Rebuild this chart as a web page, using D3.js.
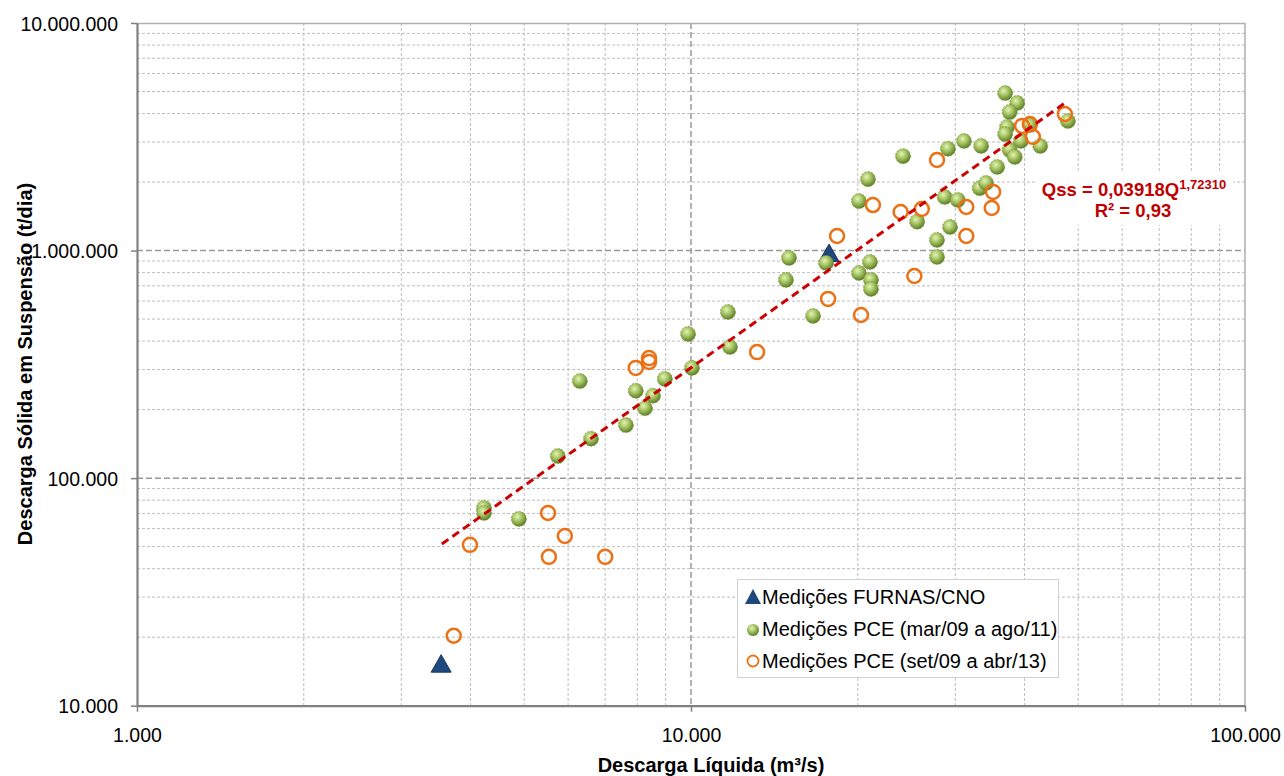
<!DOCTYPE html>
<html>
<head>
<meta charset="utf-8">
<script src="https://cdn.jsdelivr.net/npm/d3@7"></script>
<style>
  body { margin: 0; background: #ffffff; }
  #chart { width: 1284px; height: 776px; }
  text { font-family: Arial, "Liberation Sans", sans-serif; }
</style>
</head>
<body>
<div id="chart"></div>
<script>
// Medições FURNAS/CNO
const furnasQ = [3540, 17750];
const furnasQss = [15300, 975000];

// Medições PCE (mar/09 a ago/11)
const pce1Q = [4230, 4230, 4890, 5750, 6300, 6600, 7630, 7950, 8260, 8540, 8970, 9880, 10040, 11660, 11760,
    15030, 14840, 16610, 17530, 20100, 20870, 21040, 20100, 21130, 21130, 24140, 25600, 27800, 27800, 28700,
    29350, 29100, 30300, 31100, 33400, 33200, 34100, 35700, 36900, 38800, 37600, 37200, 36900, 37600, 38400,
    39400, 42700, 47900, 40900];
const pce1Qss = [74000, 70300, 66200, 125000, 267000, 149000, 171000, 242000, 203000, 230000, 273000, 430000, 305000, 537000, 377000,
    928000, 743000, 516000, 882000, 1650000, 2060000, 891000, 797000, 743000, 678000, 2600000, 1340000, 1113000, 937000, 1720000,
    1270000, 2800000, 1670000, 3030000, 2880000, 1880000, 1980000, 2330000, 4920000, 4450000, 4060000, 3490000, 3250000, 2770000, 2580000,
    3030000, 2880000, 3710000, 3560000];

// Medições PCE (set/09 a abr/13)
const pce2Q = [3730, 3990, 5520, 5540, 5920, 7000, 7950, 8400, 8400, 13160, 17680, 18350, 20270, 21300,
    23900, 25300, 26100, 27800, 31400, 31400, 34900, 35100, 39600, 40900, 41400, 47300];
const pce2Qss = [20300, 50900, 70300, 45100, 55700, 45100, 305000, 337000, 324000, 358000, 613000, 1159000, 521000, 1585000,
    1477000, 773000, 1523000, 2500000, 1554000, 1159000, 1538000, 1810000, 3530000, 3600000, 3160000, 3980000];

// power trend line Qss = a * Q^b
const trendA = 0.03918;
const trendB = 1.7231;
const trendRange = [3550, 47700];

const xTicks = [1000, 10000, 100000];
const yTicks = [10000, 100000, 1000000, 10000000];

const legendLabels = ["Medições FURNAS/CNO", "Medições PCE (mar/09 a ago/11)", "Medições PCE (set/09 a abr/13)"];

const width = 1284;
const height = 776;
const margin = {top: 23, right: 39, bottom: 70.3, left: 137};
const innerW = width - margin.left - margin.right;
const innerH = height - margin.top - margin.bottom;

const ptFormat = d3.formatLocale({decimal: ",", thousands: ".", grouping: [3], currency: ["", ""]}).format(",");

const svg = d3.select("#chart")
    .append("svg")
    .attr("width", width)
    .attr("height", height);

const defs = svg.append("defs");
const grad = defs.append("radialGradient")
    .attr("id", "greenBall")
    .attr("cx", "40%").attr("cy", "35%").attr("r", "65%");
grad.append("stop").attr("offset", "0%").attr("stop-color", "#e4f2b8");
grad.append("stop").attr("offset", "45%").attr("stop-color", "#a9c766");
grad.append("stop").attr("offset", "100%").attr("stop-color", "#5e7e28");

const g = svg.append("g")
    .attr("transform", `translate(${margin.left},${margin.top})`);

const x = d3.scaleLog().domain([1000, 100000]).range([0, innerW]);
const y = d3.scaleLog().domain([10000, 10000000]).range([innerH, 0]);

// minor grid values 2..9 per decade
const minorX = [];
[1000, 10000].forEach(d => { for (let k = 2; k <= 9; k++) minorX.push(d * k); });
const minorY = [];
[10000, 100000, 1000000].forEach(d => { for (let k = 2; k <= 9; k++) minorY.push(d * k); });

g.selectAll(".minor-h")
    .data(minorY)
    .enter().append("line")
    .attr("x1", 0).attr("x2", innerW)
    .attr("y1", d => y(d)).attr("y2", d => y(d))
    .attr("stroke", "#bdbdbd")
    .attr("stroke-width", 1)
    .attr("stroke-dasharray", "3,2");

g.selectAll(".minor-v")
    .data(minorX)
    .enter().append("line")
    .attr("y1", 0).attr("y2", innerH)
    .attr("x1", d => x(d)).attr("x2", d => x(d))
    .attr("stroke", "#bdbdbd")
    .attr("stroke-width", 1)
    .attr("stroke-dasharray", "3,2");

g.selectAll(".major-h")
    .data([100000, 1000000])
    .enter().append("line")
    .attr("x1", 0).attr("x2", innerW)
    .attr("y1", d => y(d)).attr("y2", d => y(d))
    .attr("stroke", "#999999")
    .attr("stroke-width", 1.5)
    .attr("stroke-dasharray", "6,3");

g.selectAll(".major-v")
    .data([10000])
    .enter().append("line")
    .attr("y1", 0).attr("y2", innerH)
    .attr("x1", d => x(d)).attr("x2", d => x(d))
    .attr("stroke", "#999999")
    .attr("stroke-width", 1.5)
    .attr("stroke-dasharray", "6,3");

// top & right border
g.append("path")
    .attr("d", `M0,0.5H${innerW}V${innerH}`)
    .attr("fill", "none")
    .attr("stroke", "#b0b0b0")
    .attr("stroke-width", 1.5);

// equation label background
g.append("rect")
    .attr("x", 900)
    .attr("y", 150)
    .attr("width", 196)
    .attr("height", 52)
    .attr("fill", "#ffffff");

// axes
const xAxis = g.append("g")
    .attr("transform", `translate(0,${innerH})`)
    .call(d3.axisBottom(x).tickValues(xTicks).tickFormat(ptFormat).tickSize(6).tickSizeOuter(0));
const yAxis = g.append("g")
    .call(d3.axisLeft(y).tickValues(yTicks).tickFormat(ptFormat).tickSize(6).tickSizeOuter(0));

[xAxis, yAxis].forEach(a => {
    a.select(".domain").attr("stroke", "#808080").attr("stroke-width", 2.2);
    a.selectAll(".tick line").attr("stroke", "#808080").attr("stroke-width", 1.5);
    a.selectAll(".tick text")
        .attr("fill", "#000000")
        .style("font-size", "19.5px")
        .style("font-family", "Arial, 'Liberation Sans', sans-serif");
});
xAxis.selectAll(".tick text").attr("y", 22);
yAxis.selectAll(".tick text").attr("x", -19).attr("dy", "0.36em");

// series
g.selectAll(".furnas")
    .data(furnasQ.map((q, i) => [q, furnasQss[i]]))
    .enter().append("path")
    .attr("transform", d => `translate(${x(d[0])},${y(d[1])})`)
    .attr("d", "M0,-9L10,8.5L-10,8.5Z")
    .attr("fill", "#1f497d")
    .attr("stroke", "#17375e")
    .attr("stroke-width", 1);

g.selectAll(".pce1")
    .data(pce1Q.map((q, i) => [q, pce1Qss[i]]))
    .enter().append("circle")
    .attr("cx", d => x(d[0]))
    .attr("cy", d => y(d[1]))
    .attr("r", 7.5)
    .attr("fill", "url(#greenBall)")
    .attr("stroke", "#7d9a3c")
    .attr("stroke-width", 0.8)
    .attr("stroke-dasharray", "2,1.5");

g.selectAll(".pce2")
    .data(pce2Q.map((q, i) => [q, pce2Qss[i]]))
    .enter().append("circle")
    .attr("cx", d => x(d[0]))
    .attr("cy", d => y(d[1]))
    .attr("r", 7)
    .attr("fill", "none")
    .attr("stroke", "#ec7014")
    .attr("stroke-width", 2.5);

// trend line
const line = d3.line()
    .x(d => x(d))
    .y(d => y(trendA * Math.pow(d, trendB)));
g.append("path")
    .datum(trendRange)
    .attr("d", line)
    .attr("fill", "none")
    .attr("stroke", "#cc0000")
    .attr("stroke-width", 3)
    .attr("stroke-dasharray", "8,5");

// equation
const eq = g.append("text")
    .attr("x", 997)
    .attr("y", 173)
    .attr("text-anchor", "middle")
    .attr("fill", "#c00000")
    .style("font-size", "18.5px")
    .style("font-weight", "bold");
eq.append("tspan").text("Qss = 0,03918Q");
eq.append("tspan").attr("dy", -7).style("font-size", "13px").text("1,72310");
g.append("text")
    .attr("x", 996)
    .attr("y", 194)
    .attr("text-anchor", "middle")
    .attr("fill", "#c00000")
    .style("font-size", "18.5px")
    .style("font-weight", "bold")
    .text("R² = 0,93");

// legend
const legend = svg.append("g").attr("transform", "translate(737,579)");
legend.append("rect")
    .attr("x", 0.5).attr("y", 0.5)
    .attr("width", 321).attr("height", 98)
    .attr("fill", "#ffffff")
    .attr("stroke", "#d0d0d0");
const rows = legend.selectAll(".row")
    .data(legendLabels)
    .enter().append("g")
    .attr("transform", (d, i) => `translate(0,${18 + i * 32})`);
rows.append("text")
    .attr("x", 25)
    .attr("y", 0)
    .attr("dy", "0.36em")
    .style("font-size", "20px")
    .attr("fill", "#000000")
    .text(d => d);
rows.filter((d, i) => i === 0).append("path")
    .attr("d", "M16,-8L24,7L8,7Z")
    .attr("fill", "#1f497d");
rows.filter((d, i) => i === 1).append("circle")
    .attr("cx", 16).attr("cy", 1).attr("r", 6)
    .attr("fill", "url(#greenBall)");
rows.filter((d, i) => i === 2).append("circle")
    .attr("cx", 16).attr("cy", 0).attr("r", 5.5)
    .attr("fill", "none")
    .attr("stroke", "#ec7014")
    .attr("stroke-width", 1.8);

// axis titles
svg.append("text")
    .attr("x", 711)
    .attr("y", 772)
    .attr("text-anchor", "middle")
    .style("font-size", "20px")
    .style("font-weight", "bold")
    .text("Descarga Líquida (m³/s)");

svg.append("text")
    .attr("transform", "translate(32,364) rotate(-90)")
    .attr("text-anchor", "middle")
    .style("font-size", "20px")
    .style("font-weight", "bold")
    .text("Descarga Sólida em Suspensão (t/dia)");
</script>
</body>
</html>
